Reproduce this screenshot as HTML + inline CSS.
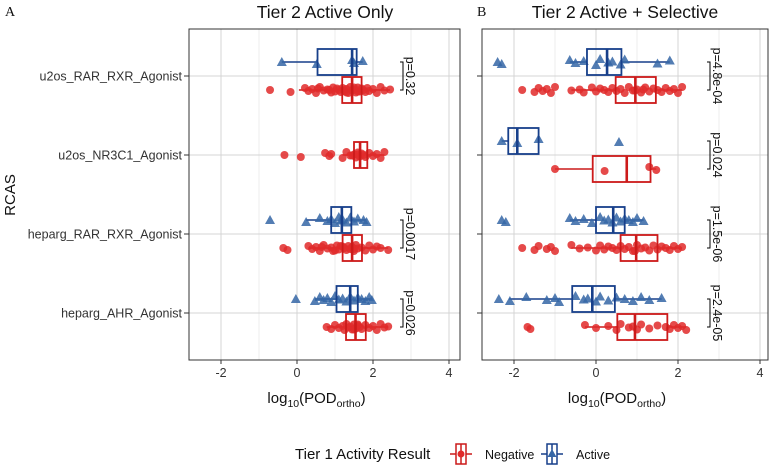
<!DOCTYPE html>
<html><head><meta charset="utf-8"><style>
html,body{margin:0;padding:0;background:#fff;}
svg{display:block;font-family:"Liberation Sans",Arial,sans-serif;}
</style></head><body>
<svg id="chart" width="772" height="467" viewBox="0 0 772 467"></svg>
<script>
const categories = ["u2os_RAR_RXR_Agonist","u2os_NR3C1_Agonist","heparg_RAR_RXR_Agonist","heparg_AHR_Agonist"];
const xTicks = [-2,0,2,4];
const pValuesA = ["p=0.32", null, "p=0.0017", "p=0.026"];
const pValuesB = ["p=4.8e-04","p=0.024","p=1.5e-06","p=2.4e-05"];
// box stats: [whiskerLow, q1, median, q3, whiskerHigh]
const boxesA_neg = [[0.05,1.19,1.45,1.70,2.45],[1.2,1.50,1.66,1.85,2.3],[0.3,1.20,1.45,1.71,2.4],[0.78,1.29,1.54,1.81,2.4]];
const boxesA_act = [[-0.4,0.54,1.45,1.57,1.73],null,[0.24,0.90,1.18,1.43,1.83],[0.47,1.04,1.40,1.60,1.97]];
const boxesB_neg = [[-0.6,0.48,0.96,1.46,2.1],[-1.0,-0.08,0.75,1.33,1.47],[-0.6,0.60,0.98,1.50,2.1],[-0.27,0.52,0.95,1.74,2.2]];
const boxesB_act = [[-0.64,-0.22,0.27,0.62,1.8],[-2.3,-2.14,-1.92,-1.40,-1.40],[-0.64,0.0,0.42,0.70,1.16],[-2.12,-0.58,-0.09,0.46,1.6]];
// points
const ptsA_neg = [
 [-0.71,-0.17,0.21,0.3,0.4,0.5,0.6,0.7,0.8,0.9,0.95,1.0,1.05,1.1,1.15,1.2,1.25,1.3,1.35,1.4,1.45,1.5,1.55,1.6,1.65,1.7,1.75,1.8,1.85,1.9,2.0,2.1,2.2,2.3,2.45,1.3,1.5,1.6,0.55,0.85],
 [-0.33,0.1,0.74,0.85,0.9,1.2,1.3,1.4,1.5,1.55,1.6,1.65,1.7,1.75,1.8,1.9,2.0,2.1,2.2,2.3,1.45,1.6],
 [-0.36,-0.25,0.3,0.4,0.5,0.6,0.7,0.8,0.9,1.0,1.05,1.1,1.2,1.25,1.3,1.35,1.4,1.45,1.5,1.55,1.6,1.7,1.8,1.9,2.0,2.1,2.2,2.4,1.15,1.5,0.65,0.95],
 [0.78,0.9,1.0,1.1,1.2,1.25,1.3,1.35,1.4,1.45,1.5,1.55,1.6,1.65,1.7,1.8,1.9,2.0,2.1,2.2,2.3,2.4,1.5,1.6]];
const ptsA_act = [[-0.4,0.52,1.45,1.5,1.73],[],
 [-0.71,0.24,0.6,0.8,0.9,1.0,1.1,1.15,1.2,1.3,1.4,1.5,1.6,1.75,1.83],
 [-0.03,0.47,0.6,0.7,0.8,0.9,1.0,1.1,1.2,1.3,1.4,1.5,1.6,1.7,1.8,1.9,1.97]];
const ptsB_neg = [
 [-1.8,-1.5,-1.4,-1.3,-1.2,-1.1,-1.0,-0.6,-0.4,-0.3,-0.1,0.0,0.1,0.2,0.3,0.4,0.5,0.6,0.7,0.8,0.9,1.0,1.1,1.2,1.3,1.4,1.5,1.6,1.7,1.8,1.9,2.0,2.1,0.95,1.15],
 [-1.0,0.21,1.3,1.47],
 [-1.8,-1.5,-1.4,-1.2,-1.1,-1.0,-0.6,-0.4,-0.2,0.0,0.1,0.2,0.3,0.4,0.5,0.6,0.7,0.8,0.9,1.0,1.1,1.2,1.3,1.4,1.5,1.6,1.7,1.8,1.9,2.0,2.1,0.95],
 [-1.67,-1.6,-0.27,0.0,0.3,0.5,0.6,0.8,0.9,1.0,1.1,1.3,1.5,1.7,1.8,1.9,2.0,2.1,2.2]];
const ptsB_act = [[-2.4,-2.3,-0.64,-0.5,-0.3,0.0,0.1,0.3,0.4,0.6,0.7,1.5,1.8],
 [-2.3,-1.92,-1.4,0.56],
 [-2.3,-2.2,-0.64,-0.5,-0.3,-0.1,0.1,0.2,0.3,0.4,0.5,0.6,0.7,0.8,0.9,1.0,1.16],
 [-2.37,-2.1,-1.7,-1.2,-1.0,-0.9,-0.5,-0.3,-0.2,0.0,0.1,0.3,0.5,0.7,0.9,1.1,1.3,1.6]];

const NS="http://www.w3.org/2000/svg";
const svg=document.getElementById('chart');
function mk(tag,attrs,parent){const e=document.createElementNS(NS,tag);for(const k in attrs)e.setAttribute(k,attrs[k]);(parent||svg).appendChild(e);return e;}
const RED_BOX="#cc1a1a", RED_PT="#e02a2a", BLUE_BOX="#173f8a", BLUE_PT="#3566a6";
const plotTop=29,plotBottom=360,rowY=[76,155,234,313],dodge=14,half=13;
const jit=[0,2,-2,1,-1,3,-3,0.5,-0.5,2.5,-2.5,1.5,-1.5];

function panel(cfg){
 const xs=v=>cfg.x0+v*cfg.sc;
 mk('rect',{x:cfg.l,y:plotTop,width:cfg.r-cfg.l,height:plotBottom-plotTop,fill:'#fff'});
 for(let v=-3;v<=5;v++){const x=xs(v);if(x<=cfg.l||x>=cfg.r)continue;
  const g=mk('line',{x1:x,x2:x,y1:plotTop,y2:plotBottom,stroke:v%2===0?'#d4d4d4':'#e6e6e6','stroke-width':v%2===0?1:0.7});
  }
 rowY.forEach(y=>{const g=mk('line',{x1:cfg.l,x2:cfg.r,y1:y,y2:y,stroke:'#d4d4d4'});
  });
 function drawGroup(box,pts,yc,col,ptcol,tri,name){
  if(box){
   const g=mk('g',{});
   mk('line',{x1:xs(box[0]),x2:xs(box[1]),y1:yc,y2:yc,stroke:col,'stroke-width':1.5},g);
   mk('line',{x1:xs(box[3]),x2:xs(box[4]),y1:yc,y2:yc,stroke:col,'stroke-width':1.5},g);
  }
  pts.forEach((v,i)=>{const x=xs(v),y=yc+jit[i%jit.length];
   let p;
   if(tri)p=mk('polygon',{points:`${x},${y-5} ${x-5},${y+4} ${x+5},${y+4}`,fill:ptcol,'fill-opacity':0.85});
   else p=mk('circle',{cx:x,cy:y,r:4,fill:ptcol,'fill-opacity':0.85});
   });
  if(box){
   const r=mk('rect',{x:xs(box[1]),y:yc-half,width:xs(box[3])-xs(box[1]),height:2*half,fill:'none',stroke:col,'stroke-width':1.8});
   
   const m=mk('line',{x1:xs(box[2]),x2:xs(box[2]),y1:yc-half,y2:yc+half,stroke:col,'stroke-width':2.6});
   
  }
 }
 rowY.forEach((y,i)=>{
  const hasAct=cfg.act[i]!==null;
  drawGroup(cfg.act[i],cfg.pa[i],y-dodge,BLUE_BOX,BLUE_PT,true,'active-'+i);
  drawGroup(cfg.neg[i],cfg.pn[i],hasAct?y+dodge:y,RED_BOX,RED_PT,false,'negative-'+i);
  if(cfg.p[i]){
   const bx=cfg.bx;
   const b=mk('path',{d:`M${bx-3},${y-dodge} H${bx} V${y+dodge} H${bx-3}`,fill:'none',stroke:'#000','stroke-width':1});
   
   const t=mk('text',{x:bx+3,y:y,'font-size':12.5,'text-anchor':'middle',transform:`rotate(90 ${bx+3} ${y})`,fill:'#111'});
   t.textContent=cfg.p[i];
  }
 });
 const fr=mk('rect',{x:cfg.l,y:plotTop,width:cfg.r-cfg.l,height:plotBottom-plotTop,fill:'none',stroke:'#333','stroke-width':1});
 
 xTicks.forEach(v=>{const x=xs(v);
  mk('line',{x1:x,x2:x,y1:plotBottom,y2:plotBottom+4,stroke:'#333'});
  const t=mk('text',{x:x,y:plotBottom+17,'font-size':12.5,'text-anchor':'middle',fill:'#333'});
  t.textContent=v;});
 rowY.forEach(y=>mk('line',{x1:cfg.l-5,x2:cfg.l,y1:y,y2:y,stroke:'#333'}));
 const xt=mk('text',{x:(cfg.l+cfg.r)/2-8,y:403,'font-size':15,'text-anchor':'middle',fill:'#111'});
 const parts=[['log',15,0],['10',10.5,4],['(POD',15,-4],['ortho',10.5,4],[')',15,-4]];
 parts.forEach(p=>{const s=mk('tspan',{'font-size':p[1],dy:p[2]},xt);s.textContent=p[0];});
 
 const tt=mk('text',{x:cfg.tx,y:18,'font-size':17.5,'text-anchor':'middle',fill:'#111'});
 tt.textContent=cfg.title;
 const lt=mk('text',{x:cfg.lx,y:16,'font-size':14,'font-family':'"Liberation Serif",serif',fill:'#111'});
 lt.textContent=cfg.letter;
}
panel({l:189,r:460,x0:297,sc:38,act:boxesA_act,neg:boxesA_neg,pa:ptsA_act,pn:ptsA_neg,p:pValuesA,bx:403,title:'Tier 2 Active Only',tx:325,letter:'A',lx:5});
panel({l:482,r:768,x0:596,sc:41,act:boxesB_act,neg:boxesB_neg,pa:ptsB_act,pn:ptsB_neg,p:pValuesB,bx:710,title:'Tier 2 Active + Selective',tx:625,letter:'B',lx:477});

categories.forEach((c,i)=>{const t=mk('text',{x:182,y:rowY[i]+4.5,'font-size':12.5,'text-anchor':'end',fill:'#333'});
 t.textContent=c;});
const yt=mk('text',{x:15,y:195,'font-size':15,'text-anchor':'middle',transform:'rotate(-90 15 195)',fill:'#111'});
yt.textContent='RCAS';

// legend
const lg=mk('g',{});
const ltl=mk('text',{x:295,y:459,'font-size':15,fill:'#111'},lg);ltl.textContent='Tier 1 Activity Result';

function key(x,col,ptcol,tri,label,name){
 const g=mk('g',{},lg);
 mk('line',{x1:x-4,x2:x+18,y1:454,y2:454,stroke:col,'stroke-width':1.5},g);
 mk('rect',{x:x+2,y:444,width:10,height:20,fill:'#fff',stroke:col,'stroke-width':1.5},g);
 mk('line',{x1:x+7,x2:x+7,y1:444,y2:464,stroke:col,'stroke-width':1.5},g);
 if(tri)mk('polygon',{points:`${x+7},${449} ${x+2.5},${457} ${x+11.5},${457}`,fill:ptcol},g);
 else mk('circle',{cx:x+7,cy:454,r:3.5,fill:ptcol},g);
 const t=mk('text',{x:x+31,y:459,'font-size':12.5,fill:'#111'},g);t.textContent=label;
}
key(454,RED_BOX,RED_PT,false,'Negative','legend-entry-negative');
key(545,BLUE_BOX,BLUE_PT,true,'Active','legend-entry-active');
</script>
</body></html>
